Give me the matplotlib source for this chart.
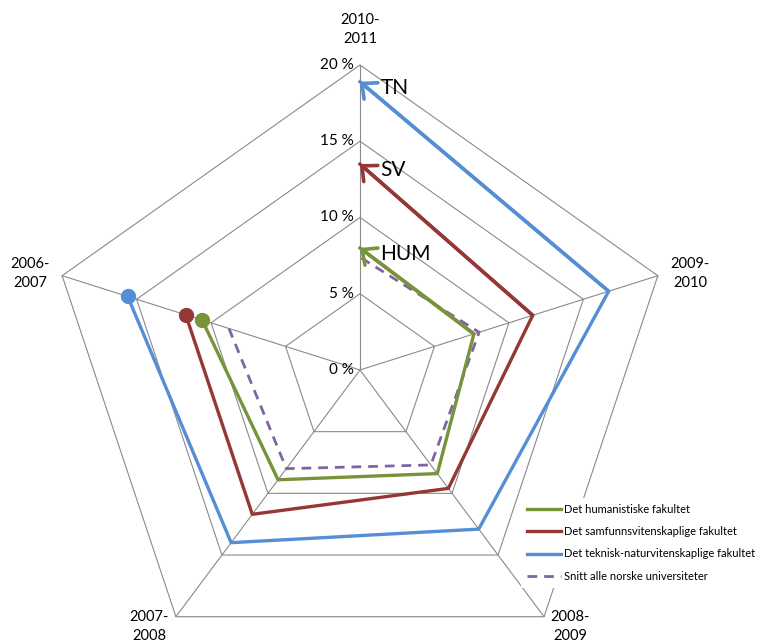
import matplotlib.pyplot as plt
import numpy as np

plt.rcParams['font.family'] = ['Lato', 'DejaVu Sans']

# axes in drawing order (the series run from 2006-2007 round to 2010-2011)
years = ['2006-\n2007', '2007-\n2008', '2008-\n2009', '2009-\n2010', '2010-\n2011']
angles = np.deg2rad([162, 234, 306, 18, 90])

hum = [10.6, 8.9, 8.4, 7.65, 8.0]
sv = [11.7, 11.7, 9.6, 11.6, 13.5]
tn = [15.6, 14.0, 12.9, 16.7, 18.9]
snitt = [8.8, 8.0, 7.7, 8.0, 7.4]

levels = [0, 5, 10, 15, 20]
names = ['Det humanistiske fakultet', 'Det samfunnsvitenskaplige fakultet',
         'Det teknisk-naturvitenskaplige fakultet', 'Snitt alle norske universiteter']
short = ['HUM', 'SV', 'TN']
colors = ['#77933C', '#953735', '#558ED5', '#8064A2']

# where the year labels sit (data units, same order as years)
label_xy = [(-21.07, 6.3), (-13.47, -16.8), (13.4, -16.8), (21.07, 6.3), (0, 22.3)]

fig = plt.figure(figsize=(7.66, 6.44), dpi=100)
ax = fig.add_axes([0, 0, 1, 1])
ax.set_xlim(-22.99, 25.93)
ax.set_ylim(-17.97, 24.26)
ax.axis('off')

cx = np.cos(angles)
cy = np.sin(angles)

# pentagon grid and spokes
for lv in levels[1:]:
    gx = np.append(cx, cx[0]) * lv
    gy = np.append(cy, cy[0]) * lv
    ax.plot(gx, gy, color='#8a8a8a', lw=0.8, zorder=1)
for i in range(5):
    ax.plot([0, cx[i] * 20], [0, cy[i] * 20], color='#8a8a8a', lw=0.8, zorder=1)

for lv in levels:
    ax.text(-0.4, lv, f'{lv} %', ha='right', va='center', fontsize=11)

for yr, (lx, ly) in zip(years, label_xy):
    ax.text(lx, ly, yr, ha='center', va='center', fontsize=10.5, linespacing=1.45)

handles = []
for k, vals in enumerate([hum, sv, tn]):
    v = np.array(vals)
    x = cx * v
    y = cy * v
    h, = ax.plot(x, y, color=colors[k], lw=2.4, zorder=3, label=names[k])
    handles.append(h)
    ax.plot(x[0], y[0], 'o', color=colors[k], ms=10, zorder=4)
    ax.annotate('', xy=(x[-1], y[-1]), xytext=(x[-2], y[-2]),
                arrowprops=dict(arrowstyle='->,head_length=0.6,head_width=0.55',
                                lw=2.6, color=colors[k], shrinkA=0, shrinkB=0,
                                mutation_scale=14),
                zorder=4)
    ax.text(1.3, v[-1] - 0.4, short[k], ha='left', va='center', fontsize=15)

v = np.array(snitt)
h, = ax.plot(cx * v, cy * v, color=colors[3], lw=2.0, dashes=(3.5, 2.5), zorder=2,
             label=names[3])
handles.append(h)

leg = ax.legend(handles=handles, loc='upper left', bbox_to_anchor=(515 / 766, 1 - 492 / 644),
                fontsize=8, frameon=True, facecolor='white', edgecolor='none',
                framealpha=1, handlelength=3.0, labelspacing=1.0, handletextpad=0.3,
                borderpad=0.6, fancybox=False)
leg.set_zorder(10)

fig.savefig('out.png', dpi=100)
